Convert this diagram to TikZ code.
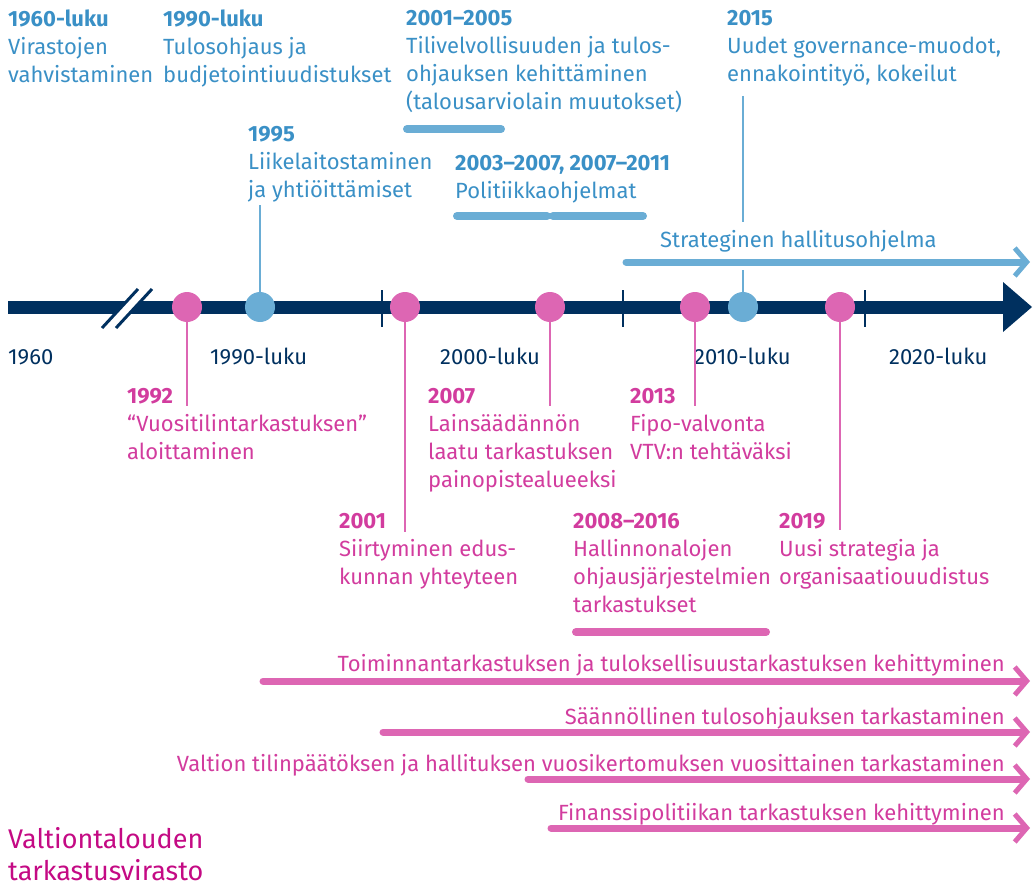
\documentclass[tikz,border=0pt]{standalone}
\usepackage{fontspec}
\setmainfont{Fira Sans}
\usepackage{xcolor}
\usetikzlibrary{arrows.meta}

\definecolor{navy}{HTML}{00305F}
\definecolor{lightblue}{HTML}{6AADD5}
\definecolor{bluetext}{HTML}{3A90C6}
\definecolor{dotpink}{HTML}{DD66B3}
\definecolor{pinktext}{HTML}{D23C9E}
\definecolor{vtvmagenta}{HTML}{C40A84}

\begin{document}
\begin{tikzpicture}[
    x=1pt, y=-1pt,
    every node/.style={inner sep=0pt, font=\fontsize{22}{28}\selectfont},
    bluelabel/.style={text=bluetext, align=left, anchor=north west},
    pinklabel/.style={text=pinktext, align=left, anchor=north west},
    axislabel/.style={text=navy, anchor=base west},
    streamlabel/.style={text=pinktext, anchor=base east},
    bluedot/.style={circle, fill=lightblue, minimum size=30pt},
    pinkdot/.style={circle, fill=dotpink, minimum size=30pt},
    bluestem/.style={draw=lightblue, line width=1.5pt},
    pinkstem/.style={draw=dotpink, line width=1.5pt},
    bluebar/.style={draw=lightblue, line width=8pt, line cap=round},
    pinkbar/.style={draw=dotpink, line width=8pt, line cap=round},
    bluearrow/.style={draw=lightblue, line width=7pt, line cap=round,
        -{Straight Barb[length=12pt, width=28pt, line width=5pt]}},
    pinkarrow/.style={draw=dotpink, line width=7pt, line cap=round,
        -{Straight Barb[length=12pt, width=28pt, line width=5pt]}},
    vtvtitle/.style={text=vtvmagenta, align=left, anchor=north west,
        font=\fontsize{27}{32}\selectfont}
]
\useasboundingbox (0,0) rectangle (1036,888);

% time axis
\coordinate (axisstart) at (8,307);
\coordinate (axisend) at (1004,307);
\draw[navy, line width=13pt] (axisstart) -- (axisend);
\fill[navy] (1003,282) -- (1032,307) -- (1003,332) -- cycle;
\draw[white, line width=9pt] (109,328) -- (145,289);
\draw[navy, line width=3pt] (102,328) -- (138,289);
\draw[navy, line width=3pt] (116,328) -- (152,289);
\foreach \x in {382,623,865}
    \draw[navy, line width=2.5pt] (\x,290) -- (\x,327);

\node[axislabel] (l1960) at (8,364) {1960};
\node[axislabel] (l1990) at (210,364) {1990-luku};
\node[axislabel] (l2000) at (440,364) {2000-luku};
\node[axislabel] (l2010) at (694,364) {2010-luku};
\node[axislabel] (l2020) at (889,364) {2020-luku};

% events above the axis
\node[bluelabel] (t1960) at (8,10) {\textbf{1960-luku}\\Virastojen\\vahvistaminen};
\node[bluelabel] (t1990) at (163,10) {\textbf{1990-luku}\\Tulosohjaus ja\\budjetointiuudistukset};
\node[bluelabel] (t2001) at (406,10) {\textbf{2001–2005}\\Tilivelvollisuuden ja tulos-\\ohjauksen kehittäminen\\(talousarviolain muutokset)};
\node[bluelabel] (t2015) at (727,10) {\textbf{2015}\\Uudet governance-muodot,\\ennakointityö, kokeilut};
\node[bluelabel] (t1995) at (248,126) {\textbf{1995}\\Liikelaitostaminen\\ja yhtiöittämiset};
\node[bluelabel] (t2003) at (455,155) {\textbf{2003–2007, 2007–2011}\\Politiikkaohjelmat};

\draw[bluebar] (407,129) -- (501,129);
\draw[bluebar] (457,216) -- (547,216);
\draw[bluebar] (553,216) -- (643,216);

\coordinate (sgstart) at (626,262);
\coordinate (sgend) at (1030,262);
\node[text=bluetext, anchor=base west] (sg) at (660,247) {Strateginen hallitusohjelma};
\draw[bluearrow] (sgstart) -- (sgend);

% dots on the axis
\node[pinkdot] (d1992) at (187,307) {};
\node[bluedot] (d1995) at (260,307) {};
\node[pinkdot] (d2001) at (405,307) {};
\node[pinkdot] (d2007) at (550,307) {};
\node[pinkdot] (d2013) at (695,307) {};
\node[bluedot] (d2015) at (743,307) {};
\node[pinkdot] (d2019) at (840,307) {};

\coordinate (s1995) at (260,205);
\coordinate (s2015) at (743,96);
\coordinate (s2015a) at (743,222);
\coordinate (s2015b) at (743,270);
\coordinate (s1992) at (187,406);
\coordinate (s2001) at (405,532);
\coordinate (s2007) at (550,406);
\coordinate (s2013) at (695,406);
\coordinate (s2019) at (840,530);
\draw[bluestem] (s1995) -- (d1995);
\draw[bluestem] (s2015) -- (s2015a);
\draw[bluestem] (s2015b) -- (d2015);
\draw[pinkstem] (d1992) -- (s1992);
\draw[pinkstem] (d2001) -- (s2001);
\draw[pinkstem] (d2007) -- (s2007);
\draw[pinkstem] (d2013) -- (s2013);
\draw[pinkstem] (d2019) -- (s2019);

% events below the axis
\node[pinklabel] (t1992) at (127,388) {\textbf{1992}\\“Vuositilintarkastuksen”\\aloittaminen};
\node[pinklabel] (t2007) at (428,388) {\textbf{2007}\\Lainsäädännön\\laatu tarkastuksen\\painopistealueeksi};
\node[pinklabel] (t2013) at (630,388) {\textbf{2013}\\Fipo-valvonta\\VTV:n tehtäväksi};
\node[pinklabel] (t2001b) at (339,513) {\textbf{2001}\\Siirtyminen edus-\\kunnan yhteyteen};
\node[pinklabel] (t2008) at (573,513) {\textbf{2008–2016}\\Hallinnonalojen\\ohjausjärjestelmien\\tarkastukset};
\node[pinklabel] (t2019) at (779,513) {\textbf{2019}\\Uusi strategia ja\\organisaatiouudistus};
\draw[pinkbar] (576,632) -- (766,632);

% long-running work
\coordinate (a1start) at (263,681);
\coordinate (a1end) at (1030,681);
\coordinate (a2start) at (383,732);
\coordinate (a2end) at (1030,732);
\coordinate (a3start) at (528,779);
\coordinate (a3end) at (1030,779);
\coordinate (a4start) at (551,828);
\coordinate (a4end) at (1030,828);
\node[streamlabel] (w1) at (1005,671) {Toiminnantarkastuksen ja tuloksellisuustarkastuksen kehittyminen};
\node[streamlabel] (w2) at (1005,724) {Säännöllinen tulosohjauksen tarkastaminen};
\node[streamlabel] (w3) at (1005,771) {Valtion tilinpäätöksen ja hallituksen vuosikertomuksen vuosittainen tarkastaminen};
\node[streamlabel] (w4) at (1005,820) {Finanssipolitiikan tarkastuksen kehittyminen};
\draw[pinkarrow] (a1start) -- (a1end);
\draw[pinkarrow] (a2start) -- (a2end);
\draw[pinkarrow] (a3start) -- (a3end);
\draw[pinkarrow] (a4start) -- (a4end);

\node[vtvtitle] (vtv) at (8,827) {Valtiontalouden\\tarkastusvirasto};
\end{tikzpicture}
\end{document}
